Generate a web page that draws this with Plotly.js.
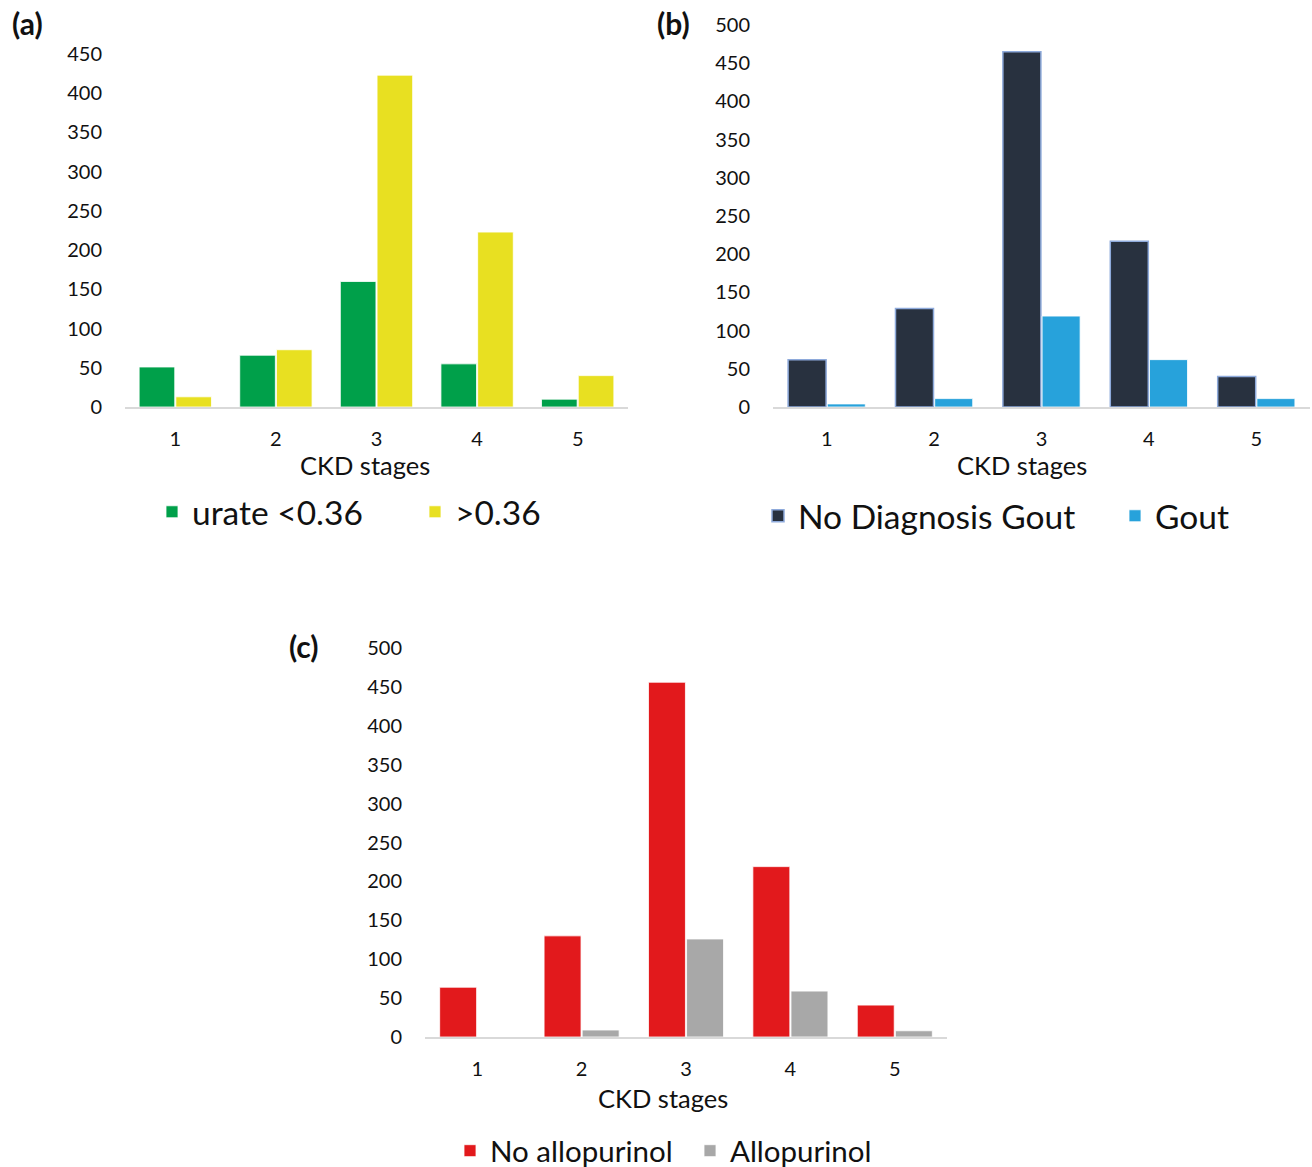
<!DOCTYPE html>
<html>
<head>
<meta charset="utf-8">
<script src="https://cdn.plot.ly/plotly-3.0.1.min.js"></script>
<style>html,body{margin:0;padding:0;background:#fff;overflow:hidden;}#chart{width:1312px;height:1180px;}</style>
</head>
<body>
<div id="chart"></div>
<script>
// ---- data ----
const stages = [1, 2, 3, 4, 5];
const stageLabels = ["1", "2", "3", "4", "5"];
const xTitle = "CKD stages";

const urateLow = [51, 66, 160, 55, 10];     // urate <0.36
const urateHigh = [13, 73, 423, 223, 40];   // >0.36

const noGout = [62, 129, 465, 217, 40];     // No Diagnosis Gout
const gout = [4, 11, 119, 62, 11];          // Gout

const noAllo = [64, 130, 456, 219, 41];     // No allopurinol
const allo = [0, 9, 126, 59, 8];            // Allopurinol

const ticksA = [0, 50, 100, 150, 200, 250, 300, 350, 400, 450];
const ticksBC = [0, 50, 100, 150, 200, 250, 300, 350, 400, 450, 500];

// ---- styling ----
const FONT = "Lato, 'Open Sans', sans-serif";
const W = 1312, H = 1180;   // slightly taller than the 1167 window so the bottom legend never pushes margins
const px = v => v / W;
const py = v => 1 - v / H;

function bar(x, y, name, color, xa, ya, legend, line) {
  return {
    type: "bar", x: x, y: y, name: name,
    xaxis: xa, yaxis: ya, legend: legend, showlegend: true,
    marker: { color: color, line: line || { color: "rgba(255,255,255,0.8)", width: 1 } },
    hoverinfo: "x+y+name"
  };
}

const data = [
  bar(stages, urateLow, "urate <0.36", "#00a04a", "x", "y", "legend"),
  bar(stages, urateHigh, ">0.36", "#e8e021", "x", "y", "legend2"),
  bar(stages, noGout, "No Diagnosis Gout", "#28313f", "x2", "y2", "legend3", { color: "#8eaadb", width: 1.5 }),
  bar(stages, gout, "Gout", "#27a2db", "x2", "y2", "legend4"),
  bar(stages, noAllo, "No allopurinol", "#e2191c", "x3", "y3", "legend5"),
  bar(stages, allo, "Allopurinol", "#a8a8a8", "x3", "y3", "legend6")
];

function xaxis(d, anchor) {
  return {
    domain: d, anchor: anchor, range: [0.5, 5.5],
    tickvals: stages, ticktext: stageLabels,
    ticks: "outside", ticklen: 13, tickcolor: "rgba(0,0,0,0)",
    showline: true, linecolor: "#d9d9d9", linewidth: 2,
    showgrid: false, zeroline: false,
    tickfont: { family: FONT, size: 20, color: "#111" },
    fixedrange: true
  };
}
function yaxis(d, anchor, max, tv) {
  return {
    domain: d, anchor: anchor, range: [0, max],
    tickvals: tv, ticktext: tv.map(String),
    ticks: "outside", ticklen: 18, tickcolor: "rgba(0,0,0,0)",
    showline: false, showgrid: false, zeroline: false,
    tickfont: { family: FONT, size: 20, color: "#111" },
    fixedrange: true
  };
}
function legend(x, y, size) {
  return {
    orientation: "h", x: px(x), y: py(y), xanchor: "left", yanchor: "middle",
    xref: "paper", yref: "paper",
    font: { family: FONT, size: size, color: "#111" },
    bgcolor: "rgba(0,0,0,0)", borderwidth: 0, itemwidth: 30
  };
}
function note(text, x, y, size) {
  return { text: text, x: px(x), y: py(y), xref: "paper", yref: "paper",
    xanchor: "center", yanchor: "middle", showarrow: false,
    font: { family: FONT, size: size, color: "#111" } };
}

const layout = {
  width: W, height: H,
  margin: { l: 0, r: 0, t: 0, b: 0 },
  paper_bgcolor: "#fff", plot_bgcolor: "#fff",
  showlegend: true,
  barmode: "group", bargap: 0.27, bargroupgap: 0.03,
  font: { family: FONT, color: "#111" },
  xaxis: xaxis([px(125), px(628)], "y"),
  yaxis: yaxis([py(407), py(54)], "x", 450, ticksA),
  xaxis2: xaxis([px(773), px(1310)], "y2"),
  yaxis2: yaxis([py(407), py(25)], "x2", 500, ticksBC),
  xaxis3: xaxis([px(425), px(947)], "y3"),
  yaxis3: yaxis([py(1037), py(648)], "x3", 500, ticksBC),
  legend: legend(152, 512, 33.5),
  legend2: legend(415, 512, 33.5),
  legend3: legend(758, 516, 33.5),
  legend4: legend(1115, 516, 33.5),
  legend5: legend(450, 1151, 29.5),
  legend6: legend(690, 1151, 29.5),
  annotations: [
    note("<b>(a)</b>", 27, 23, 30),
    note("<b>(b)</b>", 673, 23, 30),
    note("<b>(c)</b>", 304, 646, 30),
    note(xTitle, 364.5, 465, 25.5),
    note(xTitle, 1022, 465, 25.5),
    note(xTitle, 663, 1098, 25.5)
  ]
};

Plotly.newPlot("chart", data, layout, { displayModeBar: false, staticPlot: true });
</script>
</body>
</html>
